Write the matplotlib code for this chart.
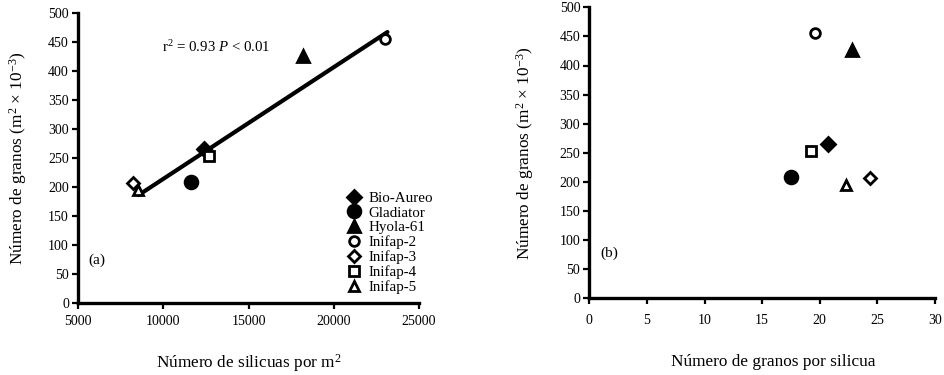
import matplotlib
matplotlib.use("Agg")
import matplotlib.pyplot as plt

plt.rcParams['font.family'] = ['Liberation Serif', 'DejaVu Serif']
plt.rcParams['mathtext.fontset'] = 'custom'
plt.rcParams['mathtext.rm'] = 'Liberation Serif'
plt.rcParams['mathtext.it'] = 'Liberation Serif:italic'

cultivars = ["Bio-Aureo", "Gladiator", "Hyola-61", "Inifap-2", "Inifap-3", "Inifap-4", "Inifap-5"]
silicuas_m2 = [12400, 11600, 18200, 23000, 8250, 12700, 8500]
granos_silicua = [20.7, 17.5, 22.8, 19.6, 24.4, 19.2, 22.3]
granos_m2 = [265, 209, 427, 456, 207, 253, 195]
fit_x = [8550, 23150]
fit_y = [186, 468]

markers = ["D", "o", "^", "o", "D", "s", "^"]
filled = [True, True, True, False, False, False, False]
msizes = [7, 9.2, 8, 7, 6, 7.5, 7.5]

yticks = [0, 50, 100, 150, 200, 250, 300, 350, 400, 450, 500]
xticks_a = [5000, 10000, 15000, 20000, 25000]
xticks_b = [0, 5, 10, 15, 20, 25, 30]

W, H = 945, 375
fig = plt.figure(figsize=(W / 100, H / 100), dpi=100)

def px_axes(l, t, r, b):
    return fig.add_axes([l / W, 1 - b / H, (r - l) / W, (b - t) / H])

axa = px_axes(78, 13.5, 419, 302.7)
axb = px_axes(589.3, 7.3, 935, 298.3)

def style(ax, xpad):
    for s in ["top", "right"]:
        ax.spines[s].set_visible(False)
    for s in ["left", "bottom"]:
        ax.spines[s].set_linewidth(2.4)
    ax.tick_params(direction="out", length=4, width=1.6, labelsize=10)
    ax.tick_params(axis="y", pad=2.5)
    ax.tick_params(axis="x", pad=xpad)
    ax.set_yticks(yticks)
    ax.set_ylim(0, 500)

ylab = "Número de granos (m$^{2}$ × 10$^{-3}$)"

# Panel (a)
style(axa, 4.5)
axa.set_xlim(5000, 25000)
axa.set_xticks(xticks_a)
axa.plot(fit_x, fit_y, color="black", lw=3, solid_capstyle="round", zorder=2)
for i, name in enumerate(cultivars):
    axa.plot(silicuas_m2[i], granos_m2[i], linestyle="none", marker=markers[i],
             markersize=msizes[i], markerfacecolor="black" if filled[i] else "white",
             markeredgecolor="black", markeredgewidth=2, label=name, zorder=3)
axa.set_ylabel(ylab, fontsize=12.4, labelpad=14)
axa.set_xlabel("Número de silicuas por m$^{2}$", fontsize=12.4)
axa.xaxis.set_label_coords(0.5, -0.172)
axa.text(0.247, 0.885, "r$^{2}$ = 0.93 $P$ < 0.01", transform=axa.transAxes,
         fontsize=10.7, va="center")
axa.text(0.03, 0.148, "(a)", transform=axa.transAxes, fontsize=11, va="center")
axa.legend(loc="upper left", bbox_to_anchor=(0.792, 0.385), frameon=False, fontsize=10.8,
           handlelength=0.8, handletextpad=0.55, labelspacing=0.08, borderpad=0.0,
           borderaxespad=0.0, numpoints=1)

# Panel (b)
style(axb, 7)
axb.set_xlim(0, 30)
axb.set_xticks(xticks_b)
for i, name in enumerate(cultivars):
    axb.plot(granos_silicua[i], granos_m2[i], linestyle="none", marker=markers[i],
             markersize=msizes[i], markerfacecolor="black" if filled[i] else "white",
             markeredgecolor="black", markeredgewidth=2, zorder=3)
axb.set_ylabel(ylab, fontsize=12.4, labelpad=17)
axb.set_xlabel("Número de granos por silicua", fontsize=12.4)
axb.xaxis.set_label_coords(0.531, -0.193)
axb.text(0.031, 0.156, "(b)", transform=axb.transAxes, fontsize=11, va="center")

fig.savefig("out.png", dpi=100)
